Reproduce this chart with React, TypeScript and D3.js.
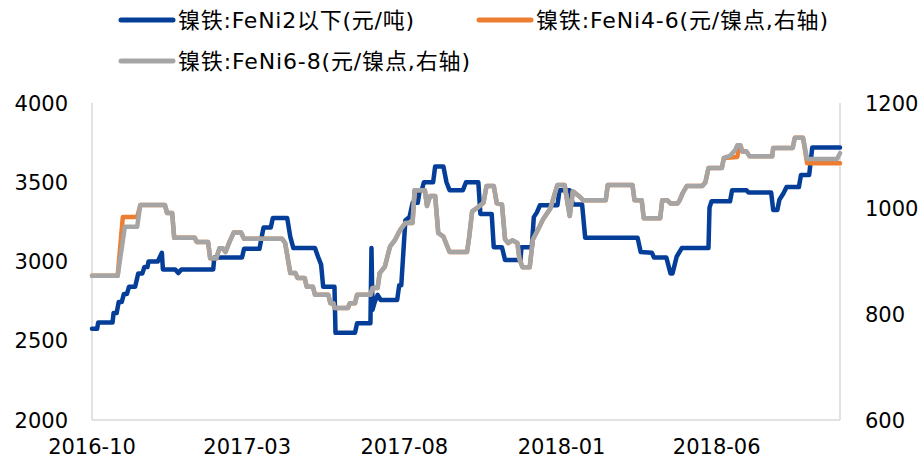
import React from "react";
import * as d3 from "d3";

// FeNi<2 (yuan/t), left axis
const feNi2: [string, number][] = [
  ["2016-10-01", 2575], ["2016-10-06", 2575], ["2016-10-07", 2615], ["2016-10-21", 2615],
  ["2016-10-22", 2675], ["2016-10-25", 2675], ["2016-10-27", 2745], ["2016-10-30", 2745],
  ["2016-11-01", 2795], ["2016-11-04", 2795], ["2016-11-06", 2840], ["2016-11-12", 2840],
  ["2016-11-15", 2925], ["2016-11-19", 2925], ["2016-11-21", 2965], ["2016-11-24", 2965],
  ["2016-11-25", 3000], ["2016-12-04", 3000], ["2016-12-08", 3055], ["2016-12-09", 2950],
  ["2016-12-21", 2950], ["2016-12-24", 2927], ["2016-12-27", 2950], ["2017-01-27", 2950],
  ["2017-01-28", 3025], ["2017-02-24", 3025], ["2017-02-26", 3080], ["2017-03-13", 3080],
  ["2017-03-15", 3150], ["2017-03-17", 3215], ["2017-03-24", 3215], ["2017-03-26", 3274],
  ["2017-04-09", 3274], ["2017-04-12", 3155], ["2017-04-15", 3085], ["2017-05-06", 3085],
  ["2017-05-09", 3030], ["2017-05-12", 2980], ["2017-05-14", 2840], ["2017-05-25", 2840],
  ["2017-05-26", 2550], ["2017-06-14", 2550], ["2017-06-16", 2610], ["2017-06-29", 2610],
  ["2017-06-30", 3085], ["2017-07-01", 2695], ["2017-07-03", 2740], ["2017-07-06", 2790],
  ["2017-07-09", 2757], ["2017-07-25", 2757], ["2017-07-27", 2850], ["2017-07-29", 2850],
  ["2017-08-02", 3260], ["2017-08-06", 3280], ["2017-08-09", 3370], ["2017-08-14", 3370],
  ["2017-08-16", 3450], ["2017-08-18", 3450], ["2017-08-20", 3500], ["2017-08-29", 3500],
  ["2017-08-31", 3600], ["2017-09-08", 3600], ["2017-09-11", 3500], ["2017-09-14", 3450],
  ["2017-09-27", 3450], ["2017-09-30", 3500], ["2017-10-12", 3500], ["2017-10-14", 3300],
  ["2017-10-25", 3300], ["2017-10-27", 3090], ["2017-11-04", 3090], ["2017-11-07", 3010],
  ["2017-11-22", 3010], ["2017-11-23", 3090], ["2017-12-03", 3090], ["2017-12-05", 3280],
  ["2017-12-08", 3310], ["2017-12-11", 3355], ["2017-12-28", 3355], ["2017-12-30", 3450],
  ["2018-01-09", 3450], ["2018-01-12", 3360], ["2018-01-21", 3360], ["2018-01-24", 3150],
  ["2018-03-16", 3150], ["2018-03-19", 3060], ["2018-03-30", 3055], ["2018-04-01", 3025],
  ["2018-04-13", 3025], ["2018-04-17", 2925], ["2018-04-19", 2925], ["2018-04-23", 3030],
  ["2018-04-28", 3085], ["2018-05-24", 3085], ["2018-05-25", 3340], ["2018-05-27", 3380],
  ["2018-06-14", 3380], ["2018-06-16", 3450], ["2018-06-30", 3450], ["2018-07-02", 3435],
  ["2018-07-24", 3435], ["2018-07-26", 3325], ["2018-07-30", 3325], ["2018-08-01", 3390],
  ["2018-08-05", 3430], ["2018-08-08", 3470], ["2018-08-20", 3470], ["2018-08-22", 3545],
  ["2018-08-30", 3545], ["2018-09-02", 3720], ["2018-09-29", 3720],
];

// FeNi6-8 (yuan/nickel point), right axis
const feNi68: [string, number][] = [
  ["2016-10-01", 873], ["2016-10-26", 873], ["2016-11-02", 966], ["2016-11-14", 966],
  ["2016-11-17", 1007], ["2016-12-11", 1007], ["2016-12-13", 992], ["2016-12-18", 992],
  ["2016-12-20", 945], ["2017-01-09", 945], ["2017-01-11", 937], ["2017-01-22", 937],
  ["2017-01-24", 906], ["2017-01-30", 906], ["2017-02-02", 925], ["2017-02-05", 925],
  ["2017-02-08", 918], ["2017-02-12", 938], ["2017-02-16", 955], ["2017-02-23", 955],
  ["2017-02-26", 943], ["2017-04-04", 943], ["2017-04-07", 935], ["2017-04-09", 912],
  ["2017-04-12", 878], ["2017-04-17", 878], ["2017-04-19", 869], ["2017-04-26", 869],
  ["2017-04-28", 852], ["2017-05-04", 852], ["2017-05-06", 837], ["2017-05-19", 837],
  ["2017-05-21", 821], ["2017-05-24", 821], ["2017-05-25", 812], ["2017-06-07", 812],
  ["2017-06-09", 821], ["2017-06-14", 821], ["2017-06-16", 837], ["2017-06-29", 837],
  ["2017-07-01", 850], ["2017-07-06", 850], ["2017-07-08", 878], ["2017-07-13", 890],
  ["2017-07-18", 928], ["2017-07-23", 941], ["2017-07-28", 960], ["2017-08-02", 973],
  ["2017-08-09", 973], ["2017-08-11", 1035], ["2017-08-21", 1035], ["2017-08-23", 1005],
  ["2017-08-26", 1024], ["2017-08-31", 1024], ["2017-09-03", 954], ["2017-09-08", 947],
  ["2017-09-14", 918], ["2017-10-01", 918], ["2017-10-03", 945], ["2017-10-06", 995],
  ["2017-10-12", 1003], ["2017-10-17", 1011], ["2017-10-20", 1043], ["2017-10-27", 1043],
  ["2017-10-30", 1010], ["2017-11-04", 1008], ["2017-11-07", 942], ["2017-11-10", 935],
  ["2017-11-14", 940], ["2017-11-19", 935], ["2017-11-21", 905], ["2017-11-24", 889],
  ["2017-12-01", 889], ["2017-12-04", 941], ["2017-12-09", 960], ["2017-12-14", 980],
  ["2017-12-21", 1000], ["2017-12-28", 1045], ["2018-01-04", 1045], ["2018-01-06", 1020],
  ["2018-01-09", 986], ["2018-01-12", 1033], ["2018-01-19", 1022], ["2018-01-22", 1016],
  ["2018-02-13", 1016], ["2018-02-15", 1045], ["2018-03-11", 1045], ["2018-03-13", 1016],
  ["2018-03-20", 1016], ["2018-03-22", 982], ["2018-04-07", 982], ["2018-04-09", 1016],
  ["2018-04-14", 1016], ["2018-04-17", 1010], ["2018-04-24", 1010], ["2018-04-26", 1016],
  ["2018-04-29", 1030], ["2018-05-03", 1043], ["2018-05-18", 1043], ["2018-05-21", 1050],
  ["2018-05-24", 1077], ["2018-06-06", 1077], ["2018-06-08", 1096], ["2018-06-14", 1100],
  ["2018-06-19", 1111], ["2018-06-21", 1120], ["2018-06-24", 1120], ["2018-06-26", 1108],
  ["2018-06-30", 1108], ["2018-07-03", 1099], ["2018-07-25", 1099], ["2018-07-26", 1115],
  ["2018-08-14", 1115], ["2018-08-16", 1134], ["2018-08-24", 1134], ["2018-08-28", 1094],
  ["2018-09-26", 1094], ["2018-09-29", 1105],
];

// FeNi4-6 (yuan/nickel point), right axis - mostly hidden under FeNi6-8
const feNi46: [string, number][] = [
  ["2016-10-01", 873], ["2016-10-26", 873], ["2016-10-31", 984], ["2016-11-14", 984],
  ["2016-11-17", 1007], ["2016-12-11", 1007], ["2016-12-13", 992], ["2016-12-18", 992],
  ["2016-12-20", 945], ["2017-01-09", 945], ["2017-01-11", 937], ["2017-01-22", 937],
  ["2017-01-24", 906], ["2017-01-30", 906], ["2017-02-02", 925], ["2017-02-05", 925],
  ["2017-02-08", 918], ["2017-02-12", 938], ["2017-02-16", 955], ["2017-02-23", 955],
  ["2017-02-26", 943], ["2017-04-04", 943], ["2017-04-07", 935], ["2017-04-09", 912],
  ["2017-04-12", 878], ["2017-04-17", 878], ["2017-04-19", 869], ["2017-04-26", 869],
  ["2017-04-28", 852], ["2017-05-04", 852], ["2017-05-06", 837], ["2017-05-19", 837],
  ["2017-05-21", 821], ["2017-05-24", 821], ["2017-05-25", 812], ["2017-06-07", 812],
  ["2017-06-09", 821], ["2017-06-14", 821], ["2017-06-16", 837], ["2017-06-29", 837],
  ["2017-07-01", 850], ["2017-07-06", 850], ["2017-07-08", 878], ["2017-07-13", 890],
  ["2017-07-18", 928], ["2017-07-23", 941], ["2017-07-28", 960], ["2017-08-02", 973],
  ["2017-08-09", 973], ["2017-08-11", 1035], ["2017-08-21", 1035], ["2017-08-23", 1005],
  ["2017-08-26", 1024], ["2017-08-31", 1024], ["2017-09-03", 954], ["2017-09-08", 947],
  ["2017-09-14", 918], ["2017-10-01", 918], ["2017-10-03", 945], ["2017-10-06", 995],
  ["2017-10-12", 1003], ["2017-10-17", 1011], ["2017-10-20", 1043], ["2017-10-27", 1043],
  ["2017-10-30", 1010], ["2017-11-04", 1008], ["2017-11-07", 942], ["2017-11-10", 935],
  ["2017-11-14", 940], ["2017-11-19", 935], ["2017-11-21", 905], ["2017-11-24", 889],
  ["2017-12-01", 889], ["2017-12-04", 941], ["2017-12-09", 960], ["2017-12-14", 980],
  ["2017-12-21", 1000], ["2017-12-28", 1045], ["2018-01-04", 1045], ["2018-01-06", 1020],
  ["2018-01-09", 986], ["2018-01-12", 1033], ["2018-01-19", 1022], ["2018-01-22", 1016],
  ["2018-02-13", 1016], ["2018-02-15", 1045], ["2018-03-11", 1045], ["2018-03-13", 1016],
  ["2018-03-20", 1016], ["2018-03-22", 982], ["2018-04-07", 982], ["2018-04-09", 1016],
  ["2018-04-14", 1016], ["2018-04-17", 1010], ["2018-04-24", 1010], ["2018-04-26", 1016],
  ["2018-04-29", 1030], ["2018-05-03", 1043], ["2018-05-18", 1043], ["2018-05-21", 1050],
  ["2018-05-24", 1077], ["2018-06-06", 1077], ["2018-06-08", 1096], ["2018-06-21", 1098],
  ["2018-06-23", 1120], ["2018-06-24", 1120], ["2018-06-26", 1108],
  ["2018-06-30", 1108], ["2018-07-03", 1099], ["2018-07-25", 1099], ["2018-07-26", 1115],
  ["2018-08-14", 1115], ["2018-08-16", 1134], ["2018-08-24", 1134], ["2018-08-28", 1086],
  ["2018-09-29", 1086],
];

const leftTicks = [2000, 2500, 3000, 3500, 4000];
const rightTicks = [600, 800, 1000, 1200];
const xTickLabels = ["2016-10", "2017-03", "2017-08", "2018-01", "2018-06"];
const dateRange = ["2016-10-01", "2018-09-29"];

const legendItems = [
  { name: "镍铁:FeNi2以下(元/吨)", color: "#053e98" },
  { name: "镍铁:FeNi4-6(元/镍点,右轴)", color: "#ed7d31" },
  { name: "镍铁:FeNi6-8(元/镍点,右轴)", color: "#a5a5a5" },
];

const W = 922;
const H = 459;
const plot = { left: 92, right: 840, top: 103, bottom: 420 };
const font = "'DejaVu Sans', 'Noto Sans CJK SC', sans-serif";

const parseDay = d3.timeParse("%Y-%m-%d");
const parseMonth = d3.timeParse("%Y-%m");

export default function App() {
  const x = d3
    .scaleTime()
    .domain(dateRange.map((d) => parseDay(d) as Date))
    .range([plot.left, plot.right]);
  const yLeft = d3.scaleLinear().domain([2000, 4000]).range([plot.bottom, plot.top]);
  const yRight = d3.scaleLinear().domain([600, 1200]).range([plot.bottom, plot.top]);

  const lineLeft = d3
    .line<[string, number]>()
    .x((d) => x(parseDay(d[0]) as Date))
    .y((d) => yLeft(d[1]));
  const lineRight = d3
    .line<[string, number]>()
    .x((d) => x(parseDay(d[0]) as Date))
    .y((d) => yRight(d[1]));

  const axisColor = "#d9d9d9";

  // legend positions (two rows)
  const legendPos = [
    { x: 121, y: 20, len: 236 },
    { x: 479, y: 20, len: 292 },
    { x: 121, y: 61, len: 292 },
  ];

  return (
    <svg
      width={W}
      height={H}
      style={{ position: "absolute", left: 0, top: 0, background: "#fff" }}
      fontFamily={font}
    >
      {/* axes */}
      <line x1={plot.left} x2={plot.left} y1={plot.top} y2={plot.bottom} stroke={axisColor} strokeWidth={1.5} />
      <line x1={plot.right} x2={plot.right} y1={plot.top} y2={plot.bottom} stroke={axisColor} strokeWidth={1.5} />
      <line x1={plot.left} x2={plot.right} y1={plot.bottom} y2={plot.bottom} stroke={axisColor} strokeWidth={1.5} />

      {leftTicks.map((t) => (
        <text key={"l" + t} x={68} y={yLeft(t)} dy="0.36em" textAnchor="end" fontSize={21} fill="#000">
          {t}
        </text>
      ))}
      {rightTicks.map((t) => (
        <text key={"r" + t} x={865} y={yRight(t)} dy="0.36em" textAnchor="start" fontSize={21} fill="#000">
          {t}
        </text>
      ))}
      {xTickLabels.map((t) => (
        <text key={t} x={x(parseMonth(t) as Date)} y={454} textAnchor="middle" fontSize={21} fill="#000">
          {t}
        </text>
      ))}

      {/* series: left axis first, right axis series on top */}
      <path d={lineLeft(feNi2) || ""} fill="none" stroke={legendItems[0].color} strokeWidth={4.5} strokeLinejoin="round" strokeLinecap="round" />
      <path d={lineRight(feNi46) || ""} fill="none" stroke={legendItems[1].color} strokeWidth={4.5} strokeLinejoin="round" strokeLinecap="round" />
      <path d={lineRight(feNi68) || ""} fill="none" stroke={legendItems[2].color} strokeWidth={4.5} strokeLinejoin="round" strokeLinecap="round" />

      {/* legend */}
      {legendItems.map((item, i) => {
        const p = legendPos[i];
        return (
          <g key={item.name}>
            <line x1={p.x} x2={p.x + 52} y1={p.y} y2={p.y} stroke={item.color} strokeWidth={5} strokeLinecap="round" />
            <text
              x={p.x + 57}
              y={p.y}
              dy="0.36em"
              fontSize={22}
              fill="#000"
              textLength={p.len}
              lengthAdjust="spacing"
            >
              {item.name}
            </text>
          </g>
        );
      })}
    </svg>
  );
}
